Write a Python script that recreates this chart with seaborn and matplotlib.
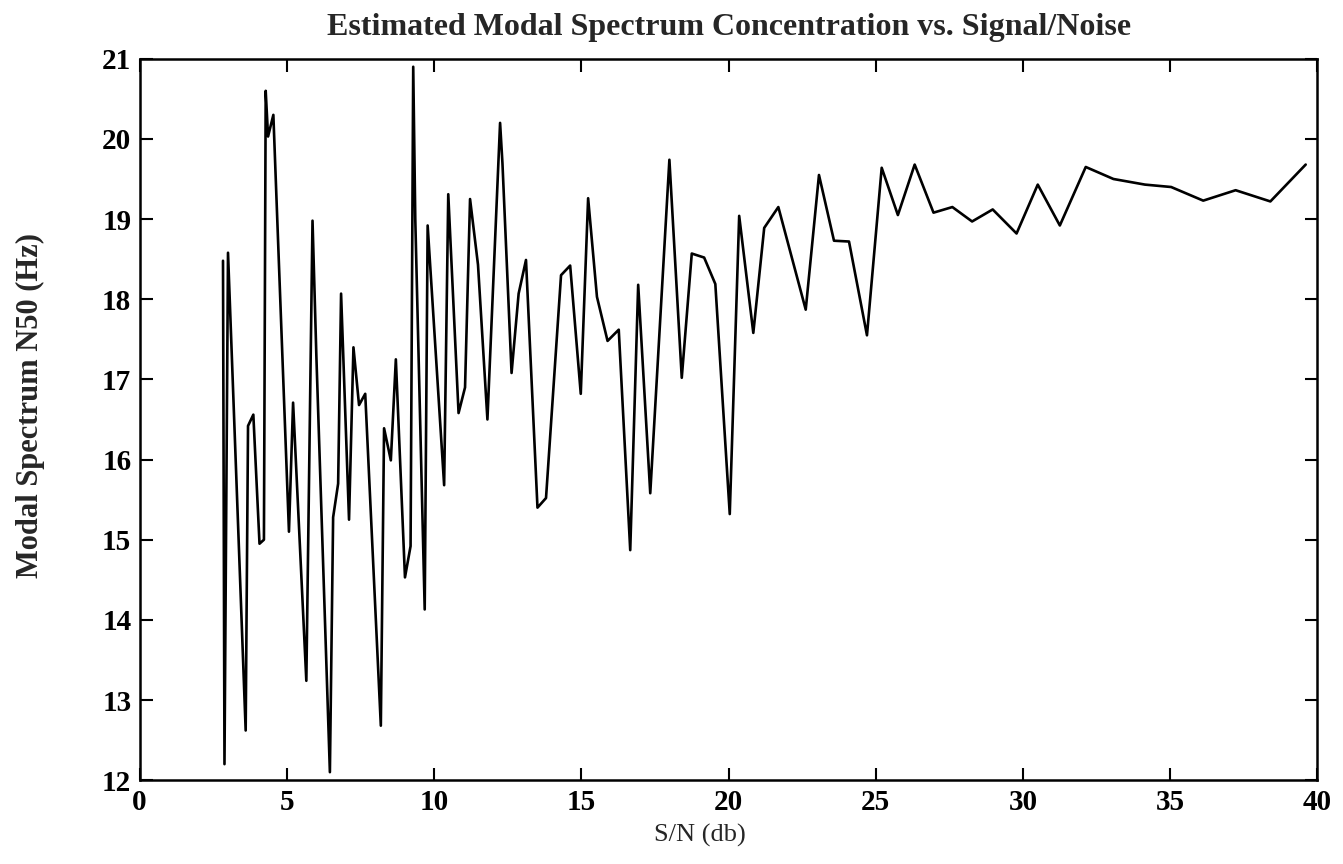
import matplotlib
matplotlib.use("Agg")
import matplotlib.pyplot as plt
import seaborn as sns
import pandas as pd

sn_db = [2.83, 2.88, 3.0, 3.6, 3.68, 3.86, 4.07, 4.22, 4.28, 4.36, 4.54, 5.07, 5.21, 5.66, 5.87, 6.0,
         6.46, 6.57, 6.74, 6.84, 7.11, 7.26, 7.45, 7.66, 8.19, 8.3, 8.53, 8.7, 9.01, 9.2, 9.29, 9.36,
         9.68, 9.78, 10.34, 10.48, 10.83, 11.05, 11.22, 11.49, 11.81, 12.24, 12.32, 12.63, 12.87, 13.12,
         13.51, 13.8, 14.31, 14.62, 14.98, 15.23, 15.53, 15.89, 16.27, 16.66, 16.93, 17.34, 17.99, 18.41,
         18.75, 19.17, 19.55, 20.04, 20.36, 20.84, 21.21, 21.69, 22.62, 23.07, 23.58, 24.09, 24.7, 25.2,
         25.75, 26.32, 26.96, 27.6, 28.27, 28.97, 29.78, 30.5, 31.25, 32.13, 33.07, 34.14, 35.03, 36.12,
         37.22, 38.4, 39.6]
n50_hz = [18.48, 12.2, 18.58, 12.62, 16.42, 16.56, 14.95, 15.0, 20.6, 20.03, 20.3, 15.1, 16.71, 13.24, 18.98, 17.3,
          12.1, 15.28, 15.7, 18.07, 15.25, 17.4, 16.68, 16.82, 12.68, 16.39, 15.99, 17.25, 14.53, 14.92, 20.9, 19.0,
          14.13, 18.92, 15.68, 19.31, 16.58, 16.9, 19.25, 18.43, 16.5, 20.2, 19.7, 17.08, 18.07, 18.49,
          15.4, 15.52, 18.3, 18.42, 16.82, 19.26, 18.03, 17.48, 17.62, 14.87, 18.18, 15.58, 19.74, 17.02,
          18.57, 18.52, 18.19, 15.32, 19.04, 17.58, 18.89, 19.15, 17.87, 19.55, 18.73, 18.72, 17.55, 19.64,
          19.05, 19.68, 19.08, 19.15, 18.97, 19.12, 18.82, 19.43, 18.92, 19.65, 19.5, 19.43, 19.4, 19.23,
          19.36, 19.22, 19.68]

x_ticks = [0, 5, 10, 15, 20, 25, 30, 35, 40]
y_ticks = [12, 13, 14, 15, 16, 17, 18, 19, 20, 21]

title = "Estimated Modal Spectrum Concentration vs. Signal/Noise"
x_label = "S/N (db)"
y_label = "Modal Spectrum N50 (Hz)"

sns.set_theme(style="ticks")
plt.rcParams['font.family'] = ['Liberation Serif', 'DejaVu Serif']

df = pd.DataFrame({"sn": sn_db, "n50": n50_hz})

fig = plt.figure(figsize=(13.43, 8.64), dpi=100)
ax = fig.add_axes([0.104, 0.097, 0.877, 0.835])
sns.lineplot(data=df, x="sn", y="n50", sort=False, estimator=None, color="black", linewidth=1.9, ax=ax)

ax.set_xlim(0, 40)
ax.set_ylim(12, 21)
ax.set_xticks(x_ticks)
ax.set_yticks(y_ticks)
ax.tick_params(axis="both", direction="in", length=9, width=1.5, labelsize=21,
               top=True, right=True, colors="black", pad=6)
for lbl in ax.get_xticklabels() + ax.get_yticklabels():
    lbl.set_fontweight("bold")
for s in ax.spines.values():
    s.set_visible(True)
    s.set_linewidth(1.8)
    s.set_color("black")

ax.set_title(title, fontsize=23, fontweight="bold", pad=17)
ax.set_xlabel(x_label, fontsize=19)
ax.xaxis.set_label_coords(0.476, -0.06)
ax.set_ylabel(y_label, fontsize=22, fontweight="bold")
ax.yaxis.set_label_coords(-0.08, 0.52)

fig.savefig("out.png", dpi=100, facecolor="white")
